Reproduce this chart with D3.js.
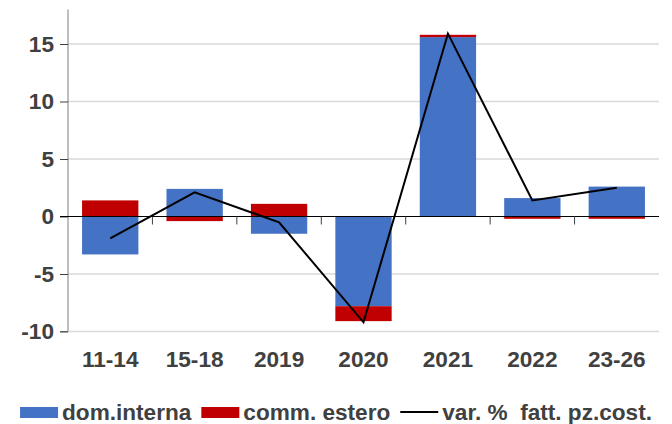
<!DOCTYPE html>
<html>
<head>
<meta charset="utf-8">
<script src="https://cdn.jsdelivr.net/npm/d3@7"></script>
<style>
  body { margin: 0; background: #fff; }
  text { font-family: "Liberation Sans", Arial, sans-serif; font-weight: bold; fill: #404040; }
</style>
</head>
<body>
<div id="chart"></div>
<script>
const categories = ['11-14', '15-18', '2019', '2020', '2021', '2022', '23-26'];
const domInterna = [-3.3, 2.4, -1.5, -7.8, 15.6, 1.6, 2.6];
const commEstero = [1.4, -0.4, 1.1, -1.3, 0.2, -0.2, -0.2];
const varFatt = [-1.9, 2.1, -0.5, -9.2, 15.9, 1.4, 2.5];
const yTicks = [-10, -5, 0, 5, 10, 15];
const seriesNames = ['dom.interna', 'comm. estero', 'var. %  fatt. pz.cost.'];

const width = 672, height = 424;
const margin = { top: 9.5, right: 13, bottom: 92.5, left: 68 };
const innerW = width - margin.left - margin.right;
const innerH = height - margin.top - margin.bottom;
const fontSize = '22.6px';

const svg = d3.select('#chart').append('svg')
  .attr('width', width)
  .attr('height', height);

const g = svg.append('g')
  .attr('transform', `translate(${margin.left},${margin.top})`);

const x = d3.scaleBand()
  .domain(categories)
  .range([0, innerW])
  .paddingInner(0.333)
  .paddingOuter(0.1665);

const y = d3.scaleLinear()
  .domain([-10, 18])
  .range([innerH, 0]);

// gridlines
g.append('g')
  .selectAll('line')
  .data(yTicks.filter(d => d !== 0))
  .enter()
  .append('line')
  .attr('x1', 0)
  .attr('x2', innerW)
  .attr('y1', d => y(d))
  .attr('y2', d => y(d))
  .attr('stroke', '#d9d9d9')
  .attr('stroke-width', 1.5);

// stacked bars (diverging)
const rows = categories.map((c, i) => ({ cat: c, dom: domInterna[i], comm: commEstero[i] }));
const stacked = d3.stack()
  .keys(['dom', 'comm'])
  .offset(d3.stackOffsetDiverging)(rows);
const colors = { dom: '#4472C4', comm: '#C00000' };

g.append('g')
  .selectAll('g')
  .data(stacked)
  .enter()
  .append('g')
  .attr('fill', d => colors[d.key])
  .selectAll('rect')
  .data(d => d)
  .enter()
  .append('rect')
  .attr('x', d => x(d.data.cat))
  .attr('y', d => y(Math.max(d[0], d[1])))
  .attr('width', x.bandwidth())
  .attr('height', d => Math.abs(y(d[0]) - y(d[1])));

// y axis
const yAxis = g.append('g')
  .call(d3.axisLeft(y).tickValues(yTicks).tickSize(8).tickPadding(6).tickFormat(d => String(d)));
yAxis.select('.domain').attr('stroke', '#7f7f7f').attr('d', `M-8,${innerH}H0V0`);
yAxis.selectAll('.tick line').attr('stroke', '#404040');
yAxis.selectAll('.tick text')
  .style('font-size', fontSize)
  .attr('fill', '#404040');

// zero line with category separators
g.append('line')
  .attr('x1', -8)
  .attr('x2', innerW)
  .attr('y1', y(0))
  .attr('y2', y(0))
  .attr('stroke', '#000')
  .attr('stroke-width', 1);

g.append('g')
  .selectAll('line')
  .data(categories.slice(1))
  .enter()
  .append('line')
  .attr('x1', d => x(d) - x.step() * x.paddingInner() / 2)
  .attr('x2', d => x(d) - x.step() * x.paddingInner() / 2)
  .attr('y1', y(0))
  .attr('y2', y(0) + 8)
  .attr('stroke', '#404040');

// category labels at the bottom
g.append('g')
  .selectAll('text')
  .data(categories)
  .enter()
  .append('text')
  .attr('x', d => x(d) + x.bandwidth() / 2)
  .attr('y', innerH + 35)
  .attr('text-anchor', 'middle')
  .style('font-size', fontSize)
  .text(d => d);

// line
const line = d3.line()
  .x((d, i) => x(categories[i]) + x.bandwidth() / 2)
  .y(d => y(d));

g.append('path')
  .datum(varFatt)
  .attr('fill', 'none')
  .attr('stroke', '#000')
  .attr('stroke-width', 2)
  .attr('d', line);

// legend
const legend = svg.append('g');
let cx = 0;
seriesNames.forEach((name, i) => {
  if (i < 2) {
    legend.append('rect')
      .attr('x', cx).attr('y', 407)
      .attr('width', 38).attr('height', 11)
      .attr('fill', i === 0 ? colors.dom : colors.comm);
  } else {
    legend.append('line')
      .attr('x1', cx).attr('x2', cx + 38)
      .attr('y1', 412).attr('y2', 412)
      .attr('stroke', '#000').attr('stroke-width', 2);
  }
  const t = legend.append('text')
    .attr('x', cx + 42)
    .attr('y', 420)
    .style('font-size', fontSize)
    .style('white-space', 'pre')
    .text(name);
  cx += 42 + t.node().getComputedTextLength() + 10;
});
const legendW = cx - 10;
legend.attr('transform', `translate(${(width - legendW) / 2},0)`);
</script>
</body>
</html>
